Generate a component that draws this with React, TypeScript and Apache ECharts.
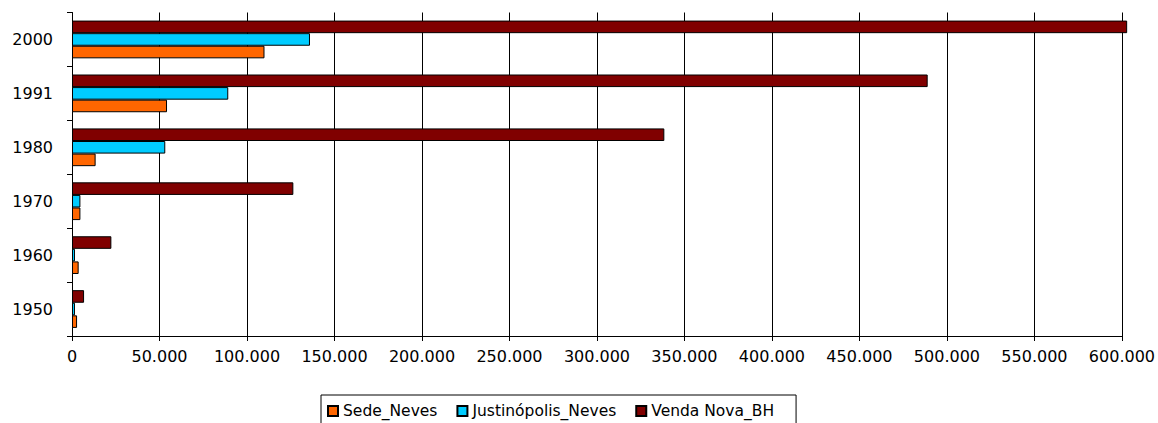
import React, { useEffect, useRef } from "react";
import * as echarts from "echarts";

const categories = ["1950", "1960", "1970", "1980", "1991", "2000"];
const sedeNeves = [2900, 3800, 4800, 13500, 54300, 110000];
const justinopolisNeves = [1700, 1700, 4800, 53300, 89300, 136000];
const vendaNovaBH = [6900, 22500, 126500, 338500, 489000, 603000];
const seriesNames = ["Sede_Neves", "Justinópolis_Neves", "Venda Nova_BH"];
const seriesColors = ["#FF6600", "#00CCFF", "#800000"];

function fmt(v: number): string {
  const s = String(Math.round(v));
  return s.replace(/\B(?=(\d{3})+(?!\d))/g, ".");
}

export default function App() {
  const ref = useRef<HTMLDivElement>(null);
  useEffect(() => {
    if (!ref.current) return;
    const chart = echarts.init(ref.current, null, { renderer: "svg" });
    const data = [sedeNeves, justinopolisNeves, vendaNovaBH];
    const order = [2, 1, 0];
    chart.setOption({
      animation: false,
      textStyle: { fontFamily: "DejaVu Sans" },
      grid: { left: 72, right: 35.5, top: 12.5, bottom: 87, containLabel: false },
      legend: {
        data: seriesNames,
        top: 395,
        left: 321,
        orient: "horizontal",
        itemWidth: 10,
        itemHeight: 10,
        itemGap: 19,
        padding: [8, 22, 20, 6],
        borderColor: "#000",
        borderWidth: 1,
        borderRadius: 0,
        icon: "rect",
        textStyle: { fontSize: 15.5, color: "#000", fontFamily: "DejaVu Sans" },
      },
      xAxis: {
        type: "value",
        min: 0,
        max: 600000,
        interval: 50000,
        axisLine: { show: true, lineStyle: { color: "#000", width: 1 } },
        axisTick: { show: true, length: 5, lineStyle: { color: "#000" } },
        splitLine: { show: true, lineStyle: { color: "#000", width: 1 } },
        axisLabel: {
          formatter: (v: number) => fmt(v),
          fontSize: 16,
          color: "#000",
          margin: 12,
          fontFamily: "DejaVu Sans",
        },
      },
      yAxis: {
        type: "category",
        data: categories,
        axisLine: { show: true, lineStyle: { color: "#000", width: 1 } },
        axisTick: { show: true, length: 5, lineStyle: { color: "#000" } },
        axisLabel: { fontSize: 16, color: "#000", margin: 19, fontFamily: "DejaVu Sans" },
        splitLine: { show: false },
      },
      series: order.map((i) => ({
        name: seriesNames[i],
        type: "bar",
        data: data[i],
        clip: false,
        barGap: "0%",
        barCategoryGap: "30%",
        itemStyle: { color: seriesColors[i], borderColor: "#000", borderWidth: 1 },
      })),
    });
    return () => chart.dispose();
  }, []);
  return (
    <div
      ref={ref}
      style={{ position: "fixed", left: 0, top: 0, width: 1158, height: 423, background: "#fff" }}
    />
  );
}
